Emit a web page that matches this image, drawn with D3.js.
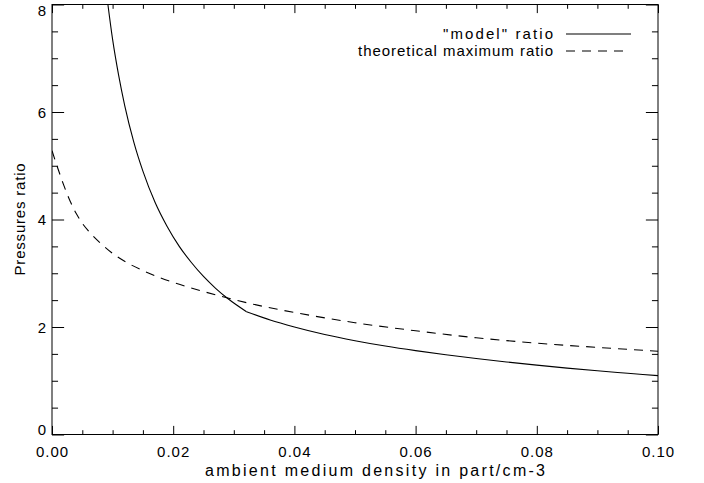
<!DOCTYPE html>
<html>
<head>
<meta charset="utf-8">
<script src="https://cdn.jsdelivr.net/npm/d3@7"></script>
<style>
  body { margin: 0; background: #fff; }
  text { font-family: "Liberation Sans", Arial, sans-serif; fill: #000; }
</style>
</head>
<body>
<svg width="704" height="483"></svg>
<script>
// "model" ratio, steep branch (up to the kink) and flat branch (after it)
const modelLowX  = [0.0090, 0.0100, 0.0110, 0.0120, 0.0135, 0.0150, 0.0170, 0.0190, 0.0210, 0.0230, 0.0250, 0.0270, 0.0290, 0.0321];
const modelLowY  = [8.20,   7.35,   6.68,   6.12,   5.44,   4.90,   4.32,   3.87,   3.50,   3.20,   2.94,   2.72,   2.53,   2.285];
const modelHighX = [0.0321, 0.036, 0.040, 0.045, 0.050, 0.055, 0.060, 0.065, 0.070, 0.075, 0.080, 0.085, 0.090, 0.095, 0.100];
const modelHighY = [2.285,  2.13,  2.00,  1.86,  1.745, 1.645, 1.56,  1.485, 1.415, 1.35,  1.29,  1.235, 1.185, 1.14,  1.095];

// theoretical maximum ratio
const maxX = [0.000, 0.001, 0.002, 0.003, 0.004, 0.005, 0.006, 0.008, 0.010, 0.0125, 0.015, 0.0175, 0.020, 0.025, 0.030, 0.035, 0.040, 0.050, 0.060, 0.070, 0.080, 0.090, 0.100];
const maxY = [5.28,  4.94,  4.62,  4.34,  4.11,  3.93,  3.79,  3.56,  3.37,  3.19,   3.05,  2.93,   2.83,  2.66,  2.51,  2.38,  2.27,  2.08,  1.93,  1.80,  1.70,  1.62,  1.55];

const xTicks = [0, 0.02, 0.04, 0.06, 0.08, 0.10];
const xMinor = [0.005, 0.01, 0.015, 0.025, 0.03, 0.035, 0.045, 0.05, 0.055, 0.065, 0.07, 0.075, 0.085, 0.09, 0.095];
const yTicks = [0, 2, 4, 6, 8];
const yMinor = [0.5, 1, 1.5, 2.5, 3, 3.5, 4.5, 5, 5.5, 6.5, 7, 7.5];
const legendLabels = ['"model" ratio', 'theoretical maximum ratio'];

const svg = d3.select("svg");
const plotL = 52, plotR = 658, plotT = 4.5, plotB = 434.5;

const x = d3.scaleLinear().domain([0, 0.1]).range([plotL, plotR]);
const y = d3.scaleLinear().domain([0, 8]).range([plotB, plotT]);

const tx = 0.02 * (plotB - plotT);   // tick length of x axes
const ty = 0.02 * (plotR - plotL);   // tick length of y axes

svg.append("rect").attr("width", 704).attr("height", 483).attr("fill", "#fff");

// bottom axis with labels
svg.append("g").attr("transform", `translate(0,${plotB})`)
  .call(d3.axisBottom(x).tickValues(xTicks).tickSize(-tx).tickSizeOuter(0).tickPadding(12).tickFormat(d3.format(".2f")));
svg.append("g").attr("transform", `translate(0,${plotB})`)
  .call(d3.axisBottom(x).tickValues(xMinor).tickSize(-tx / 2).tickFormat(""));

// top axis, ticks only
svg.append("g").attr("transform", `translate(0,${plotT})`)
  .call(d3.axisTop(x).tickValues(xTicks).tickSize(-tx).tickSizeOuter(0).tickFormat(""));
svg.append("g").attr("transform", `translate(0,${plotT})`)
  .call(d3.axisTop(x).tickValues(xMinor).tickSize(-tx / 2).tickFormat(""));

// left axis with labels
const lAxis = svg.append("g").attr("transform", `translate(${plotL},0)`)
  .call(d3.axisLeft(y).tickValues(yTicks).tickSize(-ty).tickSizeOuter(0).tickPadding(5).tickFormat(d3.format("d")));
svg.append("g").attr("transform", `translate(${plotL},0)`)
  .call(d3.axisLeft(y).tickValues(yMinor).tickSize(-ty / 2).tickFormat(""));

// right axis, ticks only
svg.append("g").attr("transform", `translate(${plotR},0)`)
  .call(d3.axisRight(y).tickValues(yTicks).tickSize(-ty).tickSizeOuter(0).tickFormat(""));
svg.append("g").attr("transform", `translate(${plotR},0)`)
  .call(d3.axisRight(y).tickValues(yMinor).tickSize(-ty / 2).tickFormat(""));

svg.selectAll(".domain").remove();
svg.selectAll(".tick line").attr("stroke", "#000");
svg.selectAll(".tick text").attr("font-size", 15).attr("font-family", "Liberation Sans, Arial, sans-serif")
  .attr("letter-spacing", 1);
// end labels of the y axis stay inside the frame
lAxis.selectAll(".tick text").attr("dy", d => d === 0 ? "0em" : d === 8 ? "0.73em" : "0.36em");

// frame
svg.append("rect")
  .attr("x", plotL).attr("y", plotT)
  .attr("width", plotR - plotL).attr("height", plotB - plotT)
  .attr("fill", "none").attr("stroke", "#000").attr("stroke-width", 1);

svg.append("clipPath").attr("id", "plot")
  .append("rect").attr("x", plotL).attr("y", plotT).attr("width", plotR - plotL).attr("height", plotB - plotT);

const line = d3.line().x(d => x(d[0])).y(d => y(d[1])).curve(d3.curveMonotoneX);
const curves = svg.append("g").attr("clip-path", "url(#plot)");

curves.append("path").datum(d3.zip(modelLowX, modelLowY))
  .attr("d", line).attr("fill", "none").attr("stroke", "#000").attr("stroke-width", 1.1);
curves.append("path").datum(d3.zip(modelHighX, modelHighY))
  .attr("d", line).attr("fill", "none").attr("stroke", "#000").attr("stroke-width", 1.1);
curves.append("path").datum(d3.zip(maxX, maxY))
  .attr("d", line).attr("fill", "none").attr("stroke", "#000").attr("stroke-width", 1.1)
  .attr("stroke-dasharray", "9,7");

// legend
const legend = svg.append("g");
const legendWidths = [110, 195];
legendLabels.forEach((label, i) => {
  const ly = 34 + i * 17;
  legend.append("text").attr("x", 553).attr("y", ly).attr("dy", "0.36em")
    .attr("text-anchor", "end").attr("font-size", 15)
    .attr("textLength", legendWidths[i]).attr("lengthAdjust", "spacing").text(label);
  legend.append("line").attr("x1", 566).attr("x2", i === 0 ? 631 : 623)
    .attr("y1", ly).attr("y2", ly).attr("stroke", "#000").attr("stroke-width", 1.1)
    .attr("stroke-dasharray", i === 0 ? null : "9,7");
});

// axis titles
svg.append("text").attr("x", 375).attr("y", 476).attr("text-anchor", "middle")
  .attr("font-size", 16).attr("textLength", 340).attr("lengthAdjust", "spacing")
  .text("ambient medium density in part/cm-3");
svg.append("text").attr("transform", "translate(25,219) rotate(-90)").attr("text-anchor", "middle")
  .attr("font-size", 15).attr("letter-spacing", 0.8).text("Pressures ratio");
</script>
</body>
</html>
